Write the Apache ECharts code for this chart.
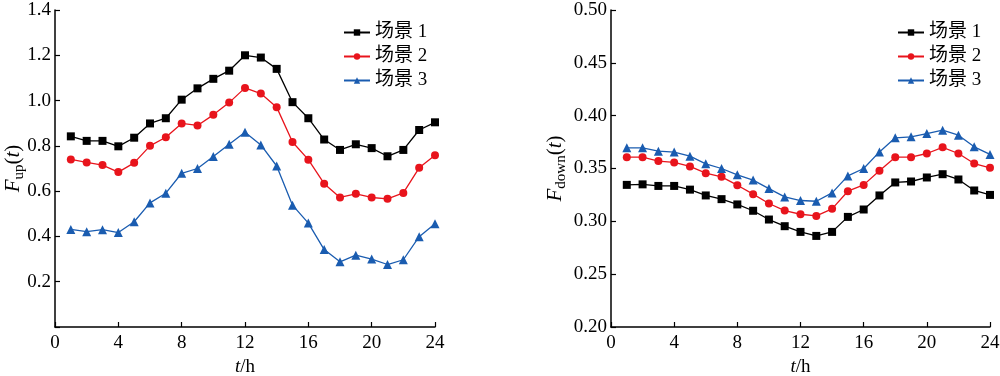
<!DOCTYPE html>
<html><head><meta charset="utf-8">
<script src="https://cdn.jsdelivr.net/npm/echarts@6/dist/echarts.min.js"></script>
<style>html,body{margin:0;padding:0;background:#fff;overflow:hidden}#c{width:1000px;height:376px}</style>
</head><body><div id="c"></div>
<script>
const hours = [1,2,3,4,5,6,7,8,9,10,11,12,13,14,15,16,17,18,19,20,21,22,23,24];
const seriesNames = ['场景 1','场景 2','场景 3'];
const upS1 = [0.842,0.822,0.822,0.798,0.836,0.899,0.922,1.004,1.054,1.096,1.132,1.200,1.190,1.140,0.993,0.922,0.828,0.782,0.807,0.790,0.754,0.782,0.870,0.904];
const upS2 = [0.740,0.727,0.715,0.684,0.725,0.800,0.838,0.899,0.890,0.937,0.991,1.056,1.031,0.971,0.817,0.739,0.633,0.572,0.588,0.572,0.566,0.592,0.703,0.759];
const upS3 = [0.431,0.421,0.430,0.417,0.465,0.548,0.591,0.679,0.700,0.753,0.807,0.860,0.804,0.711,0.538,0.459,0.342,0.288,0.317,0.300,0.276,0.297,0.399,0.456];
const downS1 = [0.3345,0.335,0.3335,0.3335,0.330,0.3245,0.321,0.316,0.310,0.3017,0.2954,0.290,0.2862,0.290,0.3042,0.3112,0.3245,0.3368,0.3377,0.3415,0.3446,0.3396,0.3292,0.325];
const downS2 = [0.3607,0.3607,0.357,0.3557,0.352,0.3456,0.3421,0.3342,0.3257,0.3169,0.3102,0.3067,0.3051,0.3118,0.3285,0.3345,0.3478,0.3607,0.3607,0.3642,0.370,0.3642,0.3547,0.3506];
const downS3 = [0.3696,0.3696,0.3664,0.3655,0.3617,0.3544,0.350,0.344,0.339,0.331,0.3231,0.3197,0.319,0.3269,0.343,0.350,0.3657,0.379,0.380,0.3831,0.3863,0.3815,0.3705,0.3633];
const xTicks = [0,4,8,12,16,20,24];
const upTicks = [0,0.2,0.4,0.6,0.8,1.0,1.2,1.4];
const downTicks = [0.20,0.25,0.30,0.35,0.40,0.45,0.50];

const colors = ['#000000','#e8141c','#1a5cb0'];
const symbols = ['rect','circle','triangle'];
const symSizes = [8,8,9];
const FONT = '"Liberation Serif","Times New Roman",serif';
const CJK = '"Liberation Serif","Noto Sans CJK SC",serif';

function pairs(v){ return hours.map((h,i)=>[h,v[i]]); }

function xAxis(gi){
  return {
    type:'value', gridIndex:gi, min:xTicks[0], max:xTicks[xTicks.length-1], interval:4,
    axisLine:{show:true,onZero:false,lineStyle:{color:'#000',width:1.5}},
    axisTick:{show:true,inside:true,length:5,lineStyle:{color:'#000',width:1.2}},
    axisLabel:{color:'#000',fontFamily:FONT,fontSize:19,margin:7},
    splitLine:{show:false},
    name:'{i|t}{n|/h}', nameLocation:'middle', nameGap:27,
    nameTextStyle:{rich:{i:{fontFamily:FONT,fontStyle:'italic',fontSize:19,color:'#000'},n:{fontFamily:FONT,fontSize:19,color:'#000'}}}
  };
}
function yAxis(gi, ticks, dec, nameSub, gap, hideMin){
  const step = +(ticks[1]-ticks[0]).toFixed(4);
  return {
    type:'value', gridIndex:gi, min:ticks[0], max:ticks[ticks.length-1], interval:step,
    axisLine:{show:true,lineStyle:{color:'#000',width:1.5}},
    axisTick:{show:true,inside:true,length:5,lineStyle:{color:'#000',width:1.2}},
    axisLabel:{color:'#000',fontFamily:FONT,fontSize:19,margin:4,
      formatter:(v)=> (hideMin && Math.abs(v-ticks[0])<1e-9) ? '' : v.toFixed(dec)},
    splitLine:{show:false},
    nameMoveOverlap:false,
    name:'{i|F}{s|'+nameSub+'}{n|(}{i|t}{n|)}', nameLocation:'middle', nameGap:gap,
    nameTextStyle:{rich:{
      i:{fontFamily:FONT,fontStyle:'italic',fontSize:21,color:'#000',lineHeight:24,verticalAlign:'middle'},
      n:{fontFamily:FONT,fontSize:21,color:'#000',lineHeight:24,verticalAlign:'middle'},
      s:{fontFamily:FONT,fontSize:15,color:'#000',lineHeight:24,verticalAlign:'bottom',padding:[0,0,-2,0]}
    }}
  };
}
function mkSeries(data, idx, gi){
  return {
    name:seriesNames[idx], type:'line', xAxisIndex:gi, yAxisIndex:gi,
    data:pairs(data), symbol:symbols[idx], symbolSize:symSizes[idx], showSymbol:true,
    itemStyle:{color:colors[idx]}, lineStyle:{color:colors[idx],width:1.3},
    animation:false
  };
}
function legend(left){
  return {
    orient:'vertical', left:left, top:18, itemWidth:26, itemHeight:8, itemGap:5,
    data:seriesNames,
    textStyle:{fontFamily:CJK,fontSize:19,color:'#000',padding:[0,0,0,0]}
  };
}

const chart = echarts.init(document.getElementById('c'), null, {renderer:'canvas', width:1000, height:376});
chart.setOption({
  animation:false,
  backgroundColor:'#fff',
  grid:[
    {left:55, right:565, top:10, bottom:49, containLabel:false, outerBoundsMode:'none'},
    {left:611, right:10, top:10, bottom:49, containLabel:false, outerBoundsMode:'none'}
  ],
  legend:[legend(338), legend(892)],
  xAxis:[xAxis(0), xAxis(1)],
  yAxis:[yAxis(0, upTicks, 1, 'up', 30, true), yAxis(1, downTicks, 2, 'down', 44, false)],
  series:[
    mkSeries(upS1,0,0), mkSeries(upS2,1,0), mkSeries(upS3,2,0),
    mkSeries(downS1,0,1), mkSeries(downS2,1,1), mkSeries(downS3,2,1)
  ]
});
</script>
</body></html>
